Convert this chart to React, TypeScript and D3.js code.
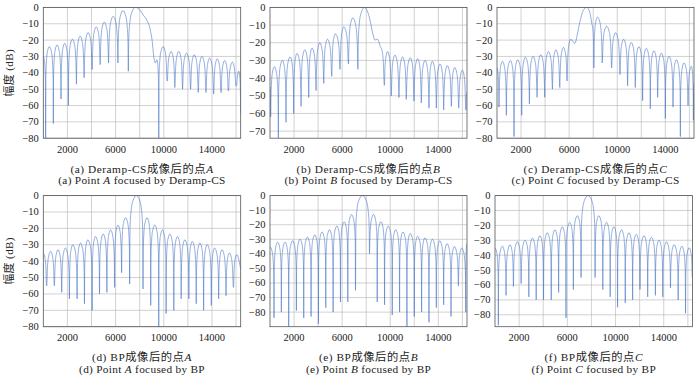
import React from "react";
import * as d3 from "d3";

type K = [string, number, number];

const X_DOMAIN: [number, number] = [0, 16384];
const xTickLabels = [2000, 6000, 10000, 14000];
const xGridValues = [2000, 4000, 6000, 8000, 10000, 12000, 14000, 16000];

// key points: n = null (spike), p = lobe peak, s = shoulder / edge point
const seriesA: K[] = [
  ["s", 0, -30], ["n", 194, -80], ["p", 500, -24], ["n", 833, -71], ["p", 1139, -23], ["n", 1472, -56],
  ["p", 1778, -22], ["n", 2083, -60], ["p", 2417, -19.5], ["n", 2750, -47], ["p", 3056, -17.6], ["n", 3389, -43],
  ["p", 3722, -15.4], ["n", 4056, -38], ["p", 4389, -12], ["n", 4722, -35], ["p", 5056, -9], ["n", 5417, -34],
  ["p", 5806, -5.5], ["n", 6194, -34], ["p", 6611, -2], ["n", 7056, -39], ["p", 7639, 0], ["s", 8056, -2],
  ["s", 8333, -5], ["s", 8611, -8], ["s", 8889, -14], ["s", 9028, -20], ["s", 9167, -30], ["s", 9306, -34],
  ["p", 9420, -32], ["n", 9583, -80], ["p", 9944, -24], ["n", 10278, -45], ["p", 10611, -27], ["n", 10917, -49],
  ["p", 11250, -27], ["n", 11556, -50], ["p", 11889, -28], ["n", 12222, -50], ["p", 12528, -29], ["n", 12861, -52],
  ["p", 13167, -30], ["n", 13500, -52], ["p", 13806, -31], ["n", 14139, -53], ["p", 14444, -31.5], ["n", 14750, -52],
  ["p", 15056, -32.5], ["n", 15361, -51], ["p", 15694, -33.5], ["n", 16000, -48], ["p", 16220, -39], ["n", 16384, -65],
];

const seriesB: K[] = [
  ["s", 0, -45], ["n", 56, -62], ["p", 361, -33.6], ["n", 694, -74], ["p", 1028, -30], ["n", 1333, -65],
  ["p", 1667, -28], ["n", 1972, -60], ["p", 2250, -26], ["n", 2583, -56], ["p", 2889, -24], ["n", 3222, -51],
  ["p", 3500, -23], ["n", 3833, -47], ["p", 4139, -20], ["n", 4472, -43], ["p", 4778, -18], ["n", 5139, -39],
  ["p", 5444, -15], ["n", 5833, -35], ["p", 6139, -11], ["n", 6528, -32], ["p", 6889, -6], ["n", 7306, -35],
  ["p", 7861, 0], ["s", 8278, -6], ["s", 8556, -15], ["s", 8722, -18.5], ["p", 8944, -18], ["s", 9167, -22],
  ["n", 9500, -44], ["p", 9778, -25], ["n", 10083, -50], ["p", 10389, -27], ["n", 10722, -51], ["p", 11028, -28],
  ["n", 11333, -52], ["p", 11667, -28.5], ["n", 11972, -53], ["p", 12278, -29], ["n", 12583, -54], ["p", 12889, -30],
  ["n", 13222, -57], ["p", 13500, -30.5], ["n", 13833, -57], ["p", 14139, -32], ["n", 14444, -58], ["p", 14750, -33],
  ["n", 15083, -56], ["p", 15361, -34], ["n", 15694, -57], ["p", 16000, -35.5], ["n", 16278, -58], ["s", 16384, -48],
];

const seriesC: K[] = [
  ["s", 0, -37], ["n", 167, -61], ["p", 444, -33], ["n", 778, -66], ["p", 1111, -32.5], ["n", 1417, -79],
  ["p", 1722, -32], ["n", 2056, -66], ["p", 2361, -30.5], ["n", 2694, -59], ["p", 3000, -30], ["n", 3333, -55],
  ["p", 3639, -29], ["n", 3972, -55], ["p", 4278, -27], ["n", 4611, -50], ["p", 4889, -26], ["n", 5222, -49],
  ["p", 5528, -24.5], ["n", 5833, -45], ["p", 6139, -19.5], ["s", 6472, -22], ["s", 6667, -17], ["s", 6889, -9],
  ["s", 7167, -2], ["p", 7444, 0], ["s", 7722, -3], ["s", 7889, -10], ["n", 8056, -37], ["p", 8361, -6],
  ["n", 8750, -34], ["p", 9111, -11.5], ["n", 9528, -37], ["p", 9861, -15.5], ["n", 10222, -41], ["p", 10528, -19.5],
  ["n", 10861, -48], ["p", 11167, -21.5], ["n", 11500, -49], ["p", 11806, -24], ["n", 12111, -57], ["p", 12417, -25],
  ["n", 12750, -62], ["p", 13056, -26.5], ["n", 13361, -55], ["p", 13667, -28], ["n", 14000, -68], ["p", 14306, -30],
  ["n", 14639, -61], ["p", 14917, -32], ["n", 15250, -79], ["p", 15556, -34], ["n", 15889, -60], ["p", 16167, -36],
  ["n", 16333, -69], ["s", 16384, -46],
];

const seriesD: K[] = [
  ["s", 0, -35], ["n", 278, -55], ["p", 611, -34], ["n", 917, -55], ["p", 1222, -33], ["n", 1528, -59],
  ["p", 1833, -32], ["n", 2167, -63], ["p", 2444, -30], ["n", 2806, -63], ["p", 3083, -29], ["n", 3417, -66],
  ["p", 3694, -27], ["n", 4056, -70], ["p", 4333, -25], ["n", 4667, -60], ["p", 4972, -23.5], ["n", 5278, -59],
  ["p", 5583, -21], ["n", 5917, -56], ["p", 6194, -18], ["n", 6500, -47], ["p", 6833, -13.5], ["n", 7167, -54],
  ["p", 7722, 0], ["n", 8278, -57], ["p", 8611, -13.5], ["n", 8917, -67], ["p", 9250, -18], ["n", 9583, -80],
  ["p", 9889, -21], ["n", 10194, -72], ["p", 10500, -23.5], ["n", 10833, -70], ["p", 11139, -25], ["n", 11444, -63],
  ["p", 11750, -27], ["n", 12083, -63], ["p", 12361, -28], ["n", 12694, -66], ["p", 13000, -29], ["n", 13306, -70],
  ["p", 13611, -30], ["n", 13944, -67], ["p", 14222, -32], ["n", 14556, -63], ["p", 14833, -33], ["n", 15167, -61],
  ["p", 15444, -35], ["n", 15778, -56], ["p", 16056, -36], ["s", 16384, -45],
];

const seriesE: K[] = [
  ["s", 0, -35], ["n", 333, -84], ["p", 639, -32], ["n", 944, -80], ["p", 1250, -32], ["n", 1556, -90],
  ["p", 1889, -31], ["n", 2194, -79], ["p", 2500, -30], ["n", 2806, -84], ["p", 3111, -28.5], ["n", 3417, -83],
  ["p", 3722, -27], ["n", 4028, -88], ["p", 4333, -25], ["n", 4639, -77], ["p", 4944, -23.5], ["n", 5250, -80],
  ["p", 5556, -21], ["n", 5861, -73], ["p", 6167, -18], ["n", 6472, -73], ["p", 6778, -13], ["n", 7111, -65],
  ["p", 7694, 0], ["n", 8278, -40], ["p", 8611, -13], ["n", 8917, -73], ["p", 9222, -18], ["n", 9528, -75],
  ["p", 9833, -21], ["n", 10167, -82], ["p", 10444, -23.5], ["n", 10778, -80], ["p", 11056, -25], ["n", 11389, -90],
  ["p", 11667, -26], ["n", 12000, -83], ["p", 12278, -28], ["n", 12611, -80], ["p", 12889, -29], ["n", 13222, -87],
  ["p", 13500, -30], ["n", 13833, -77], ["p", 14111, -31], ["n", 14444, -75], ["p", 14722, -33], ["n", 15056, -83],
  ["p", 15333, -35], ["n", 15667, -62], ["p", 15944, -36], ["n", 16278, -80], ["s", 16384, -33],
];

const seriesF: K[] = [
  ["s", 0, -35], ["n", 278, -87], ["p", 611, -34], ["n", 917, -67], ["p", 1250, -33], ["n", 1528, -61],
  ["p", 1861, -31], ["n", 2167, -59], ["p", 2500, -30], ["n", 2806, -68], ["p", 3111, -28.5], ["n", 3417, -70],
  ["p", 3722, -27], ["n", 4028, -70], ["p", 4333, -25], ["n", 4667, -70], ["p", 4972, -23], ["n", 5278, -65],
  ["p", 5583, -21], ["n", 5889, -82], ["p", 6194, -18], ["n", 6500, -63], ["p", 6833, -13.5], ["n", 7139, -55],
  ["p", 7722, 0], ["n", 8306, -55], ["p", 8611, -13.5], ["n", 8944, -63], ["p", 9250, -18], ["n", 9556, -68],
  ["p", 9861, -21], ["n", 10167, -75], ["p", 10500, -23], ["n", 10806, -72], ["p", 11111, -25], ["n", 11417, -70],
  ["p", 11722, -26], ["n", 12028, -63], ["p", 12361, -27], ["n", 12667, -68], ["p", 12972, -28], ["n", 13306, -67],
  ["p", 13611, -30], ["n", 13917, -68], ["p", 14222, -31], ["n", 14556, -62], ["p", 14861, -33], ["n", 15194, -70],
  ["p", 15500, -34], ["n", 15806, -79], ["p", 16111, -35], ["n", 16384, -55],
];

const yMins = [-80, -74, -80, -80, -90, -88];
const yTickSets = [
  [0, -10, -20, -30, -40, -50, -60, -70, -80],
  [0, -10, -20, -30, -40, -50, -60, -70],
  [0, -10, -20, -30, -40, -50, -60, -70, -80],
  [0, -10, -20, -30, -40, -50, -60, -70, -80],
  [0, -10, -20, -30, -40, -50, -60, -70, -80],
  [0, -10, -20, -30, -40, -50, -60, -70, -80],
];
const panelTags = ["a", "b", "c", "d", "e", "f"];
const pointLetters = ["A", "B", "C", "A", "B", "C"];
const methodZh = ["Deramp-CS", "Deramp-CS", "Deramp-CS", "BP", "BP", "BP"];
const methodEn = ["Deramp-CS", "Deramp-CS", "Deramp-CS", "BP", "BP", "BP"];
const allSeries = [seriesA, seriesB, seriesC, seriesD, seriesE, seriesF];

// layout (style, not data)
const frames = [
  { x0: 43.3, x1: 240.7, y0: 7.4, y1: 138.2 },
  { x0: 270, x1: 467, y0: 7.4, y1: 138.2 },
  { x0: 497, x1: 694, y0: 7.4, y1: 138.2 },
  { x0: 43.3, x1: 240.7, y0: 195.6, y1: 326.7 },
  { x0: 270, x1: 467, y0: 195.6, y1: 326.7 },
  { x0: 495, x1: 692.5, y0: 195.6, y1: 326.7 },
];

// lobe profile near a null: [fraction of distance to neighbour key point, dB below it]
const LOBE_PROFILE: [number, number][] = [[0.06, -20], [0.2, -10], [0.5, -3]];

function expand(keys: K[]): [number, number][] {
  const out: [number, number][] = [];
  for (let i = 0; i < keys.length; i++) {
    const [t, x, y] = keys[i];
    if (t === "n") {
      const prev = keys[i - 1];
      const next = keys[i + 1];
      if (prev && prev[0] !== "n") {
        const w = x - prev[1];
        for (let j = LOBE_PROFILE.length - 1; j >= 0; j--) {
          const [f, dy] = LOBE_PROFILE[j];
          out.push([x - f * w, Math.max(prev[2] + dy, y)]);
        }
      }
      out.push([x, y]);
      if (next && next[0] !== "n") {
        const w = next[1] - x;
        for (const [f, dy] of LOBE_PROFILE) out.push([x + f * w, Math.max(next[2] + dy, y)]);
      }
    } else out.push([x, y]);
  }
  return out;
}

const FONT = "'Liberation Serif', 'DejaVu Serif', serif";
const CJK = "'Liberation Serif', 'Noto Sans CJK SC', serif";
const fmt = (d: number) => (d === 0 ? "0" : "\u2212" + Math.abs(d));

function Panel({ i }: { i: number }) {
  const fr = frames[i];
  const x = d3.scaleLinear().domain(X_DOMAIN).range([fr.x0, fr.x1]);
  const y = d3.scaleLinear().domain([yMins[i], 0]).range([fr.y1, fr.y0]);
  const pts = expand(allSeries[i]);
  const line = d3
    .line<[number, number]>()
    .x((d) => x(d[0]))
    .y((d) => y(d[1]))
    .curve(d3.curveMonotoneX);
  const cx = (fr.x0 + fr.x1) / 2;
  const clipId = "clip" + i;
  return (
    <g>
      <defs>
        <clipPath id={clipId}>
          <rect x={fr.x0} y={fr.y0} width={fr.x1 - fr.x0} height={fr.y1 - fr.y0} />
        </clipPath>
      </defs>
      <rect x={fr.x0} y={fr.y0} width={fr.x1 - fr.x0} height={fr.y1 - fr.y0} fill="#fff" />
      {xGridValues.map((v) => (
        <line key={"gx" + v} x1={x(v)} x2={x(v)} y1={fr.y0} y2={fr.y1} stroke="#b4b4b4" strokeWidth={0.6} />
      ))}
      {yTickSets[i].map((v) => (
        <line key={"gy" + v} x1={fr.x0} x2={fr.x1} y1={y(v)} y2={y(v)} stroke="#b4b4b4" strokeWidth={0.6} />
      ))}
      <path d={line(pts) || ""} fill="none" stroke="#3d6cc4" strokeWidth={0.55} clipPath={`url(#${clipId})`} />
      <rect x={fr.x0} y={fr.y0} width={fr.x1 - fr.x0} height={fr.y1 - fr.y0} fill="none" stroke="#555" strokeWidth={0.8} />
      {yTickSets[i].map((v) => (
        <text key={"ty" + v} x={fr.x0 - 4.5} y={y(v)} dy="0.33em" textAnchor="end" fontSize={10.5} fontFamily={FONT} fill="#222">
          {fmt(v)}
        </text>
      ))}
      {xTickLabels.map((v) => (
        <text key={"tx" + v} x={x(v)} y={fr.y1 + 14.5} textAnchor="middle" fontSize={10.5} fontFamily={FONT} fill="#222">
          {v}
        </text>
      ))}
      <text x={cx} y={fr.y1 + 34.3} textAnchor="middle" fontSize={11.3} letterSpacing={0.55} fontFamily={CJK} fill="#222">
        {`(${panelTags[i]}) ${methodZh[i]}成像后的点`}
        <tspan fontStyle="italic">{pointLetters[i]}</tspan>
      </text>
      <text x={cx} y={fr.y1 + 45.8} textAnchor="middle" fontSize={11.3} letterSpacing={0.3} fontFamily={FONT} fill="#222">
        {`(${panelTags[i]}) Point `}
        <tspan fontStyle="italic">{pointLetters[i]}</tspan>
        {` focused by ${methodEn[i]}`}
      </text>
    </g>
  );
}

export default function App() {
  const rowCenters = [72.8, 261];
  return (
    <svg
      width={700}
      height={377}
      style={{ position: "absolute", left: 0, top: 0, background: "#fff" }}
      viewBox="0 0 700 377"
    >
      <rect width={700} height={377} fill="#fff" />
      {[0, 1, 2, 3, 4, 5].map((i) => (
        <Panel key={i} i={i} />
      ))}
      {rowCenters.map((cy, k) => (
        <text
          key={"yl" + k}
          transform={`translate(13,${cy}) rotate(-90)`}
          textAnchor="middle"
          fontSize={11}
          letterSpacing={0.4}
          fontFamily={CJK}
          fill="#222"
        >
          幅度 (dB)
        </text>
      ))}
    </svg>
  );
}
